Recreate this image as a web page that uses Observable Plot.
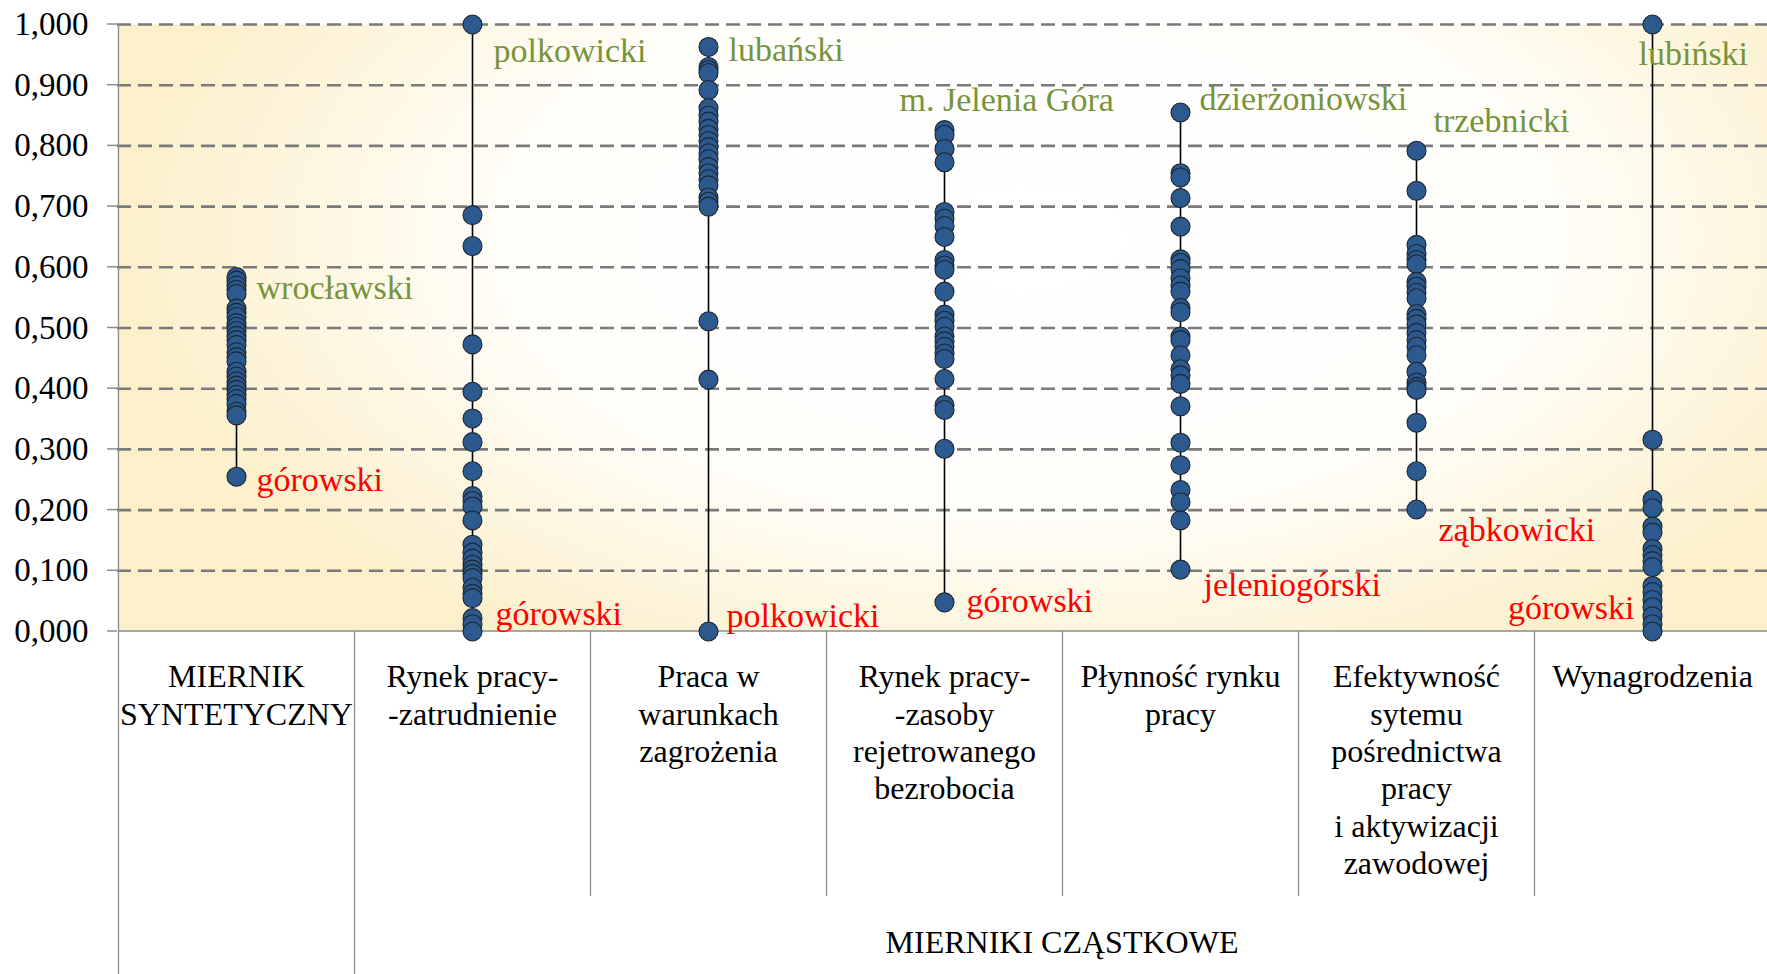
<!DOCTYPE html>
<html><head><meta charset="utf-8">
<script src="https://cdn.jsdelivr.net/npm/d3@7"></script>
<script src="https://cdn.jsdelivr.net/npm/@observablehq/plot@0.6"></script>
<style>
body{margin:0;background:#fff;overflow:hidden}
#chart svg{display:block}
</style>
</head><body><div id="chart"></div>
<script>
// ---------- data ----------
const categories = [
  "MIERNIK\nSYNTETYCZNY",
  "Rynek pracy-\n-zatrudnienie",
  "Praca w\nwarunkach\nzagrożenia",
  "Rynek pracy-\n-zasoby\nrejetrowanego\nbezrobocia",
  "Płynność rynku\npracy",
  "Efektywność\nsytemu\npośrednictwa\npracy\ni aktywizacji\nzawodowej",
  "Wynagrodzenia"
];
const groupTitle = "MIERNIKI CZĄSTKOWE";

const syntetyczny = [0.584, 0.578, 0.570, 0.563, 0.556, 0.532, 0.525, 0.518, 0.508, 0.502, 0.495, 0.487, 0.480, 0.472, 0.460, 0.452, 0.445, 0.428, 0.420, 0.412, 0.405, 0.398, 0.390, 0.383, 0.375, 0.362, 0.356, 0.255];
const zatrudnienie = [1.000, 0.686, 0.635, 0.473, 0.395, 0.351, 0.312, 0.264, 0.223, 0.215, 0.206, 0.183, 0.143, 0.130, 0.120, 0.110, 0.102, 0.095, 0.088, 0.072, 0.062, 0.055, 0.022, 0.012, 0.000];
const zagrozenie = [0.963, 0.930, 0.925, 0.920, 0.892, 0.862, 0.850, 0.840, 0.828, 0.818, 0.808, 0.798, 0.788, 0.778, 0.765, 0.755, 0.745, 0.735, 0.715, 0.708, 0.700, 0.511, 0.415, 0.000];
const zasoby = [0.826, 0.818, 0.795, 0.773, 0.691, 0.680, 0.668, 0.650, 0.612, 0.603, 0.596, 0.560, 0.522, 0.512, 0.502, 0.486, 0.478, 0.469, 0.458, 0.449, 0.416, 0.373, 0.365, 0.301, 0.048];
const plynnosc = [0.855, 0.755, 0.748, 0.714, 0.667, 0.613, 0.607, 0.597, 0.582, 0.570, 0.560, 0.533, 0.526, 0.486, 0.480, 0.455, 0.432, 0.422, 0.408, 0.371, 0.311, 0.274, 0.233, 0.213, 0.183, 0.102];
const efektywnosc = [0.792, 0.726, 0.637, 0.622, 0.612, 0.605, 0.576, 0.568, 0.558, 0.549, 0.523, 0.515, 0.506, 0.492, 0.480, 0.469, 0.455, 0.428, 0.410, 0.403, 0.398, 0.344, 0.264, 0.201];
const wynagrodzenia = [1.000, 0.316, 0.217, 0.203, 0.173, 0.163, 0.136, 0.126, 0.116, 0.106, 0.075, 0.065, 0.052, 0.040, 0.025, 0.012, 0.000];

const series = [syntetyczny, zatrudnienie, zagrozenie, zasoby, plynnosc, efektywnosc, wynagrodzenia];
const yTicks = [0, 0.1, 0.2, 0.3, 0.4, 0.5, 0.6, 0.7, 0.8, 0.9, 1.0];

// extreme-value labels: category index, text, which extreme
const extremeCat  = [0, 0, 1, 1, 2, 2, 3, 3, 4, 4, 5, 5, 6, 6];
const extremeText = ["wrocławski", "górowski", "polkowicki", "górowski", "lubański", "polkowicki",
                     "m. Jelenia Góra", "górowski", "dzierżoniowski", "jeleniogórski",
                     "trzebnicki", "ząbkowicki", "lubiński", "górowski"];
const extremeKind = ["max", "min", "max", "min", "max", "min", "max", "min", "max", "min", "max", "min", "max", "min"];

// label styling (offsets in px)
const labelDx = [20, 20, 21, 23, 20, 18, -45, 22, 19, 23, 17, 22, -14, -18];
const labelDy = [11, 3, 27, -17, 3, -15, -30, -1, -13, 16, -30, 21, 30, -23];
const labelAnchor = ["start","start","start","start","start","start","start","start","start","start","start","start","start","end"];
const maxColor = "#77933C", minColor = "#FF0000";

// ---------- build ----------
const rows = categories.flatMap((c, i) => series[i].map(v => ({cat: c, v})));
const labelRows = extremeCat.map((ci, k) => ({
  cat: categories[ci],
  v: extremeKind[k] === "max" ? d3.max(series[ci]) : d3.min(series[ci]),
  text: extremeText[k],
  color: extremeKind[k] === "max" ? maxColor : minColor,
  dx: labelDx[k], dy: labelDy[k], anchor: labelAnchor[k]
}));

const FONT = "Liberation Serif";
const fmt = d => d3.format(".3f")(d).replace(".", ",");

function bottomTable(index, scales, values, dims) {
  const x = scales.x, y = scales.y;
  const bw = x(categories[1]) - x(categories[0]);
  const g = d3.create("svg:g");
  const y0 = y(0);
  const left = x(categories[0]);
  const right = dims.width - dims.marginRight;
  g.append("line").attr("x1", left).attr("x2", right).attr("y1", y0).attr("y2", y0)
    .attr("stroke", "#8c8c8c").attr("stroke-width", 1.5);
  categories.forEach((c, i) => {
    const xx = Math.round(x(c)) + 0.5;
    g.append("line").attr("x1", xx).attr("x2", xx)
      .attr("y1", i === 0 ? dims.marginTop : y0)
      .attr("y2", i <= 1 ? dims.height : dims.height - 78)
      .attr("stroke", "#8c8c8c").attr("stroke-width", 1.3);
  });
  const xMid = (x(categories[1]) + x(categories[categories.length - 1]) + bw) / 2;
  g.append("text").attr("x", xMid).attr("y", dims.height - 21)
    .attr("text-anchor", "middle").attr("font-size", 32).attr("fill", "black")
    .attr("font-family", FONT).text(groupTitle);
  return g.node();
}

const svg = Plot.plot({
  width: 1767,
  height: 974,
  marginLeft: 117,
  marginRight: -4,
  marginTop: 24,
  marginBottom: 343,
  style: {fontFamily: FONT, background: "white", overflow: "visible"},
  x: {type: "band", domain: categories, padding: 0, label: null, axis: null},
  y: {domain: [0, 1], label: null, axis: null},
  marks: [
    Plot.frame({fill: "url(#bgGrad)", stroke: null}),
    Plot.gridY(yTicks.filter(t => t > 0), {stroke: "#7a7a7a", strokeOpacity: 1, strokeWidth: 2.6, strokeDasharray: "14,7"}),
    Plot.tickY(yTicks, {y: d => d, frameAnchor: "left", stroke: "#8c8c8c", strokeWidth: 1.5, inset: 0, marker: null,
      render: (index, scales, values, dims) => {
        const g = d3.create("svg:g");
        for (const i of index) {
          const yy = values.y[i];
          g.append("line").attr("x1", dims.marginLeft - 10).attr("x2", dims.marginLeft)
            .attr("y1", yy).attr("y2", yy).attr("stroke", "#8c8c8c").attr("stroke-width", 1.5);
        }
        return g.node();
      }}),
    Plot.text(yTicks, {y: d => d, text: fmt, frameAnchor: "left", textAnchor: "end", dx: -29, fontSize: 33, fontFamily: FONT, fill: "black"}),
    Plot.text(categories, {x: d => d, text: d => d, frameAnchor: "bottom", lineAnchor: "top", dy: 29, fontSize: 32, lineHeight: 1.17, fontFamily: FONT, fill: "black"}),
    bottomTable,
    Plot.ruleX(rows, Plot.groupX({y1: "min", y2: "max"}, {x: "cat", y: "v", stroke: "black", strokeWidth: 1.6})),
    Plot.dot(rows, {x: "cat", y: "v", r: 9.5, fill: "#2c5a8e", stroke: "#1c2633", strokeWidth: 1.1}),
    ...labelRows.map(d => Plot.text([d], {x: "cat", y: "v", text: "text", fill: d.color, dx: d.dx, dy: d.dy, textAnchor: d.anchor, fontSize: 34, fontFamily: FONT}))
  ]
});

const ns = "http://www.w3.org/2000/svg";
const defs = document.createElementNS(ns, "defs");
defs.innerHTML = `<radialGradient id="bgGrad" cx="0.55" cy="0.35" r="0.72"
   gradientTransform="translate(0.55,0.35) scale(0.76,1.1) translate(-0.55,-0.35)">
  <stop offset="0" stop-color="#ffffff"/>
  <stop offset="0.55" stop-color="#fffefb"/>
  <stop offset="1" stop-color="#fcf0cb"/>
</radialGradient>`;
svg.insertBefore(defs, svg.firstChild);
document.getElementById("chart").appendChild(svg);
</script>
</body></html>
